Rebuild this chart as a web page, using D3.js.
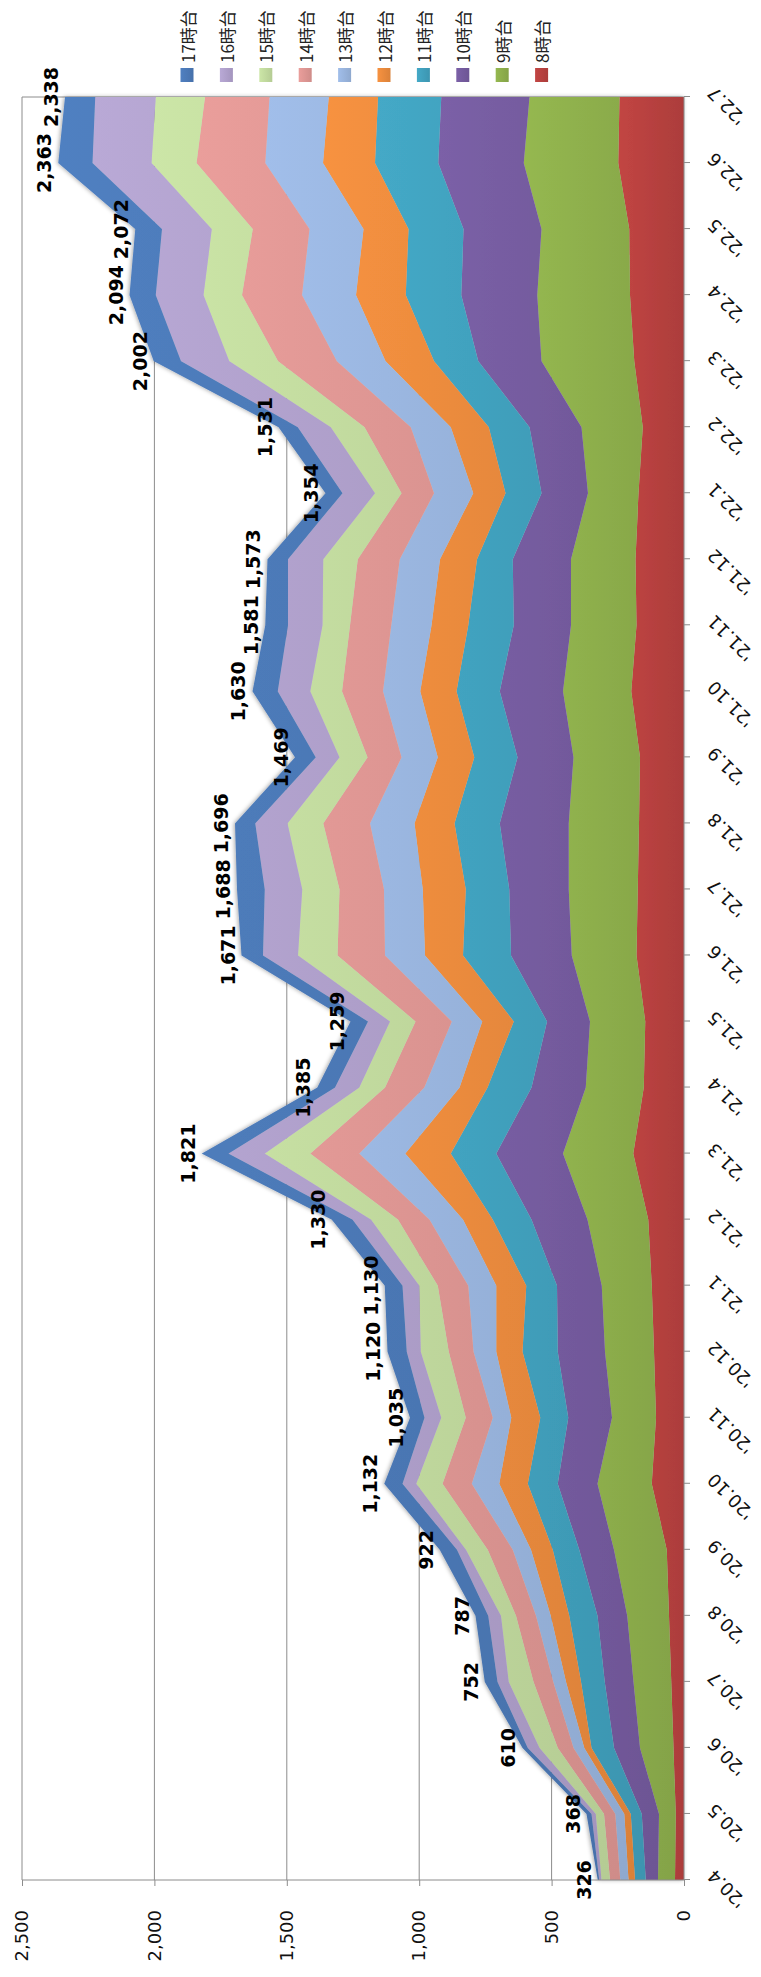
<!DOCTYPE html>
<html lang="ja">
<head>
    <meta charset="utf-8">
    <title>時間帯別 推移</title>
    <script src="https://d3js.org/d3.v7.min.js" charset="utf-8"></script>
    <style type="text/css">
        body
        {
            margin: 0;
            background-color: white;
        }
        svg
        {
            display: block;
            background-color: white;
        }
        .axis text
        {
            font-family: "DejaVu Sans", Verdana, sans-serif;
            font-size: 18px;
            fill: #111;
        }
        .axis path, .axis line
        {
            stroke: #8c8c8c;
        }
        .total
        {
            font-family: "DejaVu Sans", Verdana, sans-serif;
            font-size: 19px;
            font-weight: bold;
            fill: #000;
        }
        .legend text
        {
            font-family: "Noto Sans CJK JP", sans-serif;
            font-size: 17px;
            fill: #222;
        }
    </style>
</head>
<body>
<div id="chart_div"></div>
<script>
"use strict";

var months = ["'20.4", "'20.5", "'20.6", "'20.7", "'20.8", "'20.9", "'20.10", "'20.11", "'20.12",
              "'21.1", "'21.2", "'21.3", "'21.4", "'21.5", "'21.6", "'21.7", "'21.8", "'21.9",
              "'21.10", "'21.11", "'21.12", "'22.1", "'22.2", "'22.3", "'22.4", "'22.5", "'22.6", "'22.7"];
var hours = ["8時台", "9時台", "10時台", "11時台", "12時台", "13時台", "14時台", "15時台", "16時台", "17時台"];

var h8  = [34, 31, 40, 48, 57, 65, 122, 106, 113, 122, 135, 192, 152, 146, 179, 175, 170, 166, 199, 179, 183, 172, 156, 188, 204, 207, 248, 244];
var h9  = [64, 63, 126, 143, 157, 199, 205, 166, 185, 189, 229, 265, 219, 209, 245, 260, 265, 251, 258, 248, 244, 191, 231, 350, 350, 331, 357, 339];
var h10 = [46, 66, 98, 108, 113, 132, 150, 165, 179, 169, 212, 252, 205, 162, 229, 225, 261, 212, 239, 216, 220, 175, 196, 239, 287, 295, 323, 334];
var h11 = [41, 41, 85, 90, 106, 100, 113, 106, 133, 116, 146, 172, 166, 126, 182, 164, 171, 163, 163, 172, 135, 136, 154, 167, 210, 207, 239, 239];
var h12 = [25, 25, 28, 57, 70, 82, 108, 109, 99, 113, 113, 172, 106, 119, 143, 163, 151, 138, 137, 139, 139, 122, 144, 183, 188, 170, 196, 186];
var h13 = [31, 34, 40, 48, 56, 69, 104, 70, 86, 106, 126, 173, 133, 115, 151, 146, 168, 137, 141, 152, 152, 148, 151, 184, 204, 204, 218, 223];
var h14 = [38, 42, 60, 74, 75, 94, 110, 102, 93, 115, 119, 185, 148, 137, 180, 168, 176, 128, 155, 155, 159, 123, 175, 222, 226, 215, 260, 244];
var h15 = [33, 31, 69, 94, 57, 82, 99, 93, 106, 70, 102, 172, 97, 96, 149, 141, 135, 106, 119, 104, 130, 100, 127, 184, 146, 154, 170, 186];
var h16 = [8, 16, 44, 42, 48, 34, 52, 63, 53, 63, 70, 137, 92, 83, 132, 141, 122, 90, 123, 130, 133, 123, 125, 183, 180, 188, 223, 228];
var h17 = [6, 19, 20, 48, 48, 65, 69, 55, 73, 67, 78, 101, 67, 66, 81, 105, 77, 78, 96, 86, 78, 64, 72, 102, 99, 101, 129, 115];

var totals = [326, 368, 610, 752, 787, 922, 1132, 1035, 1120, 1130, 1330, 1821, 1385, 1259, 1671, 1688, 1696, 1469,
              1630, 1581, 1573, 1354, 1531, 2002, 2094, 2072, 2363, 2338];
var valueTicks = [0, 500, 1000, 1500, 2000, 2500];

var colors = ["#b3403e", "#8aaa4a", "#72599a", "#3f9cb8", "#e4873b", "#95b0d8", "#d8928f", "#bdd59a", "#ab9cc6", "#4a76b2"];

// the chart is drawn upright and then turned a quarter to the left
var page_width = 761;
var page_height = 1977;
var W = page_height;   // width of the upright chart
var H = page_width;

var series_values = [h8, h9, h10, h11, h12, h13, h14, h15, h16, h17];
var rows = months.map(function(m, i)
{
    var row = {month: m};
    hours.forEach(function(h, k)
    {
        row[h] = series_values[k][i];
    });
    return row;
});

var svg = d3.select("#chart_div")
    .append("svg")
    .attr("width", page_width)
    .attr("height", page_height);

var defs = svg.append("defs");
colors.forEach(function(c, k)
{
    var grad = defs.append("linearGradient")
        .attr("id", "grad" + k)
        .attr("x1", 0).attr("y1", 0)
        .attr("x2", 0).attr("y2", 1);
    grad.append("stop").attr("offset", "0%").attr("stop-color", d3.color(c).brighter(0.22));
    grad.append("stop").attr("offset", "100%").attr("stop-color", d3.color(c).darker(0.12));
});
var shadow = defs.append("filter")
    .attr("id", "shadow")
    .attr("x", "-5%").attr("y", "-5%")
    .attr("width", "110%").attr("height", "110%");
shadow.append("feDropShadow")
    .attr("dx", 0).attr("dy", -1)
    .attr("stdDeviation", 2.2)
    .attr("flood-color", "#000")
    .attr("flood-opacity", 0.35);

var chart = svg.append("g")
    .attr("transform", "translate(0," + page_height + ") rotate(-90)");

var xscale = d3.scalePoint()
    .domain(months)
    .range([97, 1880]);
var yscale = d3.scaleLinear()
    .domain([0, 2500])
    .range([684, 22]);

// gridlines
chart.append("g")
    .selectAll("line")
    .data(valueTicks.slice(1))
    .enter()
    .append("line")
    .attr("x1", xscale.range()[0])
    .attr("x2", xscale.range()[1])
    .attr("y1", function(d) { return yscale(d); })
    .attr("y2", function(d) { return yscale(d); })
    .attr("stroke", "#8c8c8c")
    .attr("stroke-width", 1);

// right border of the plot
chart.append("line")
    .attr("x1", xscale.range()[1]).attr("x2", xscale.range()[1])
    .attr("y1", yscale(2500)).attr("y2", yscale(0))
    .attr("stroke", "#8c8c8c");

var stack = d3.stack().keys(hours);
var layers = stack(rows);

var area = d3.area()
    .x(function(d) { return xscale(d.data.month); })
    .y0(function(d) { return yscale(d[0]); })
    .y1(function(d) { return yscale(d[1]); });

chart.append("g")
    .attr("filter", "url(#shadow)")
    .selectAll("path")
    .data(layers)
    .enter()
    .append("path")
    .attr("d", area)
    .attr("fill", function(d, k) { return "url(#grad" + k + ")"; });

// axes
var xaxis = d3.axisBottom(xscale).tickSize(6).tickFormat(function(d) { return d; });
var gx = chart.append("g")
    .attr("class", "axis")
    .attr("transform", "translate(0," + yscale(0) + ")")
    .call(xaxis);
gx.select(".domain").attr("d", "M" + xscale.range()[0] + ",0H" + xscale.range()[1]);
gx.selectAll("text")
    .attr("text-anchor", "end")
    .attr("x", 0)
    .attr("y", 0)
    .attr("dy", "0.72em")
    .attr("transform", "translate(2,22) rotate(-45)");

var yaxis = d3.axisLeft(yscale)
    .tickValues(valueTicks)
    .tickSize(6)
    .tickPadding(24)
    .tickFormat(d3.format(","));
var gy = chart.append("g")
    .attr("class", "axis")
    .attr("transform", "translate(" + xscale.range()[0] + ",0)")
    .call(yaxis);
gy.select(".domain").attr("d", "M0," + yscale(2500) + "V" + yscale(0));

// totals
chart.append("g")
    .selectAll("text")
    .data(totals)
    .enter()
    .append("text")
    .attr("class", "total")
    .attr("x", function(d, i) { return xscale(months[i]); })
    .attr("y", function(d) { return yscale(d) - 7; })
    .attr("text-anchor", "middle")
    .text(function(d) { return d3.format(",")(d); });

// legend
var legend = chart.append("g").attr("class", "legend");
var legend_items = hours.slice().reverse();
legend_items.forEach(function(h, j)
{
    var k = hours.indexOf(h);
    var cy = 187 + j * 39.4;
    legend.append("rect")
        .attr("x", 1895)
        .attr("y", cy - 6.5)
        .attr("width", 14)
        .attr("height", 13)
        .attr("fill", "url(#grad" + k + ")");
    legend.append("text")
        .attr("x", 1914)
        .attr("y", cy)
        .attr("dominant-baseline", "central")
        .text(h);
});
</script>
</body>
</html>
